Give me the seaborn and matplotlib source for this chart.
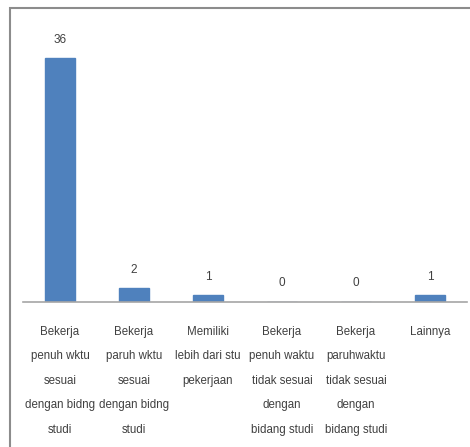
import matplotlib
matplotlib.use("Agg")
import matplotlib.pyplot as plt
import seaborn as sns
import pandas as pd
from matplotlib.patches import Rectangle

categories = [
    "Bekerja\npenuh wktu\nsesuai\ndengan bidng\nstudi",
    "Bekerja\nparuh wktu\nsesuai\ndengan bidng\nstudi",
    "Memiliki\nlebih dari stu\npekerjaan",
    "Bekerja\npenuh waktu\ntidak sesuai\ndengan\nbidang studi",
    "Bekerja\nparuhwaktu\ntidak sesuai\ndengan\nbidang studi",
    "Lainnya",
]
values = [36, 2, 1, 0, 0, 1]

sns.set_theme(style="white")
plt.rcParams['font.family'] = ['Liberation Sans', 'DejaVu Sans']

W, H = 470, 447
fig = plt.figure(figsize=(W / 100, H / 100), dpi=100)
ax = fig.add_axes([23 / W, (H - 302) / H, (467 - 23) / W, (302 - 31) / H])

df = pd.DataFrame({"cat": categories, "val": values})
sns.barplot(data=df, x="cat", y="val", color="#4F81BD", saturation=1,
            width=0.4, ax=ax, edgecolor="#4F81BD")
ax.set_ylim(0, 40)
ax.set_xlim(-0.5, 5.5)

for c in ax.containers:
    ax.bar_label(c, labels=[str(v) for v in values], padding=9,
                 fontsize=8.5, color="#404040")

ax.set_xlabel("")
ax.set_ylabel("")
ax.set_yticks([])
ax.tick_params(axis="x", length=0, pad=17, labelsize=8.3, labelcolor="#404040")
for lab in ax.get_xticklabels():
    lab.set_linespacing(2.4)
for s in ["top", "right", "left"]:
    ax.spines[s].set_visible(False)
ax.spines["bottom"].set_color("#a6a6a6")
ax.spines["bottom"].set_linewidth(1.2)

# outer frame (left and top visible)
fig.patches.append(Rectangle((10 / W, -0.1), 1.2, (H - 8) / H + 0.1,
                             transform=fig.transFigure, fill=False,
                             edgecolor="#8c8c8c", linewidth=1.5))

fig.savefig("out.png", dpi=100)
